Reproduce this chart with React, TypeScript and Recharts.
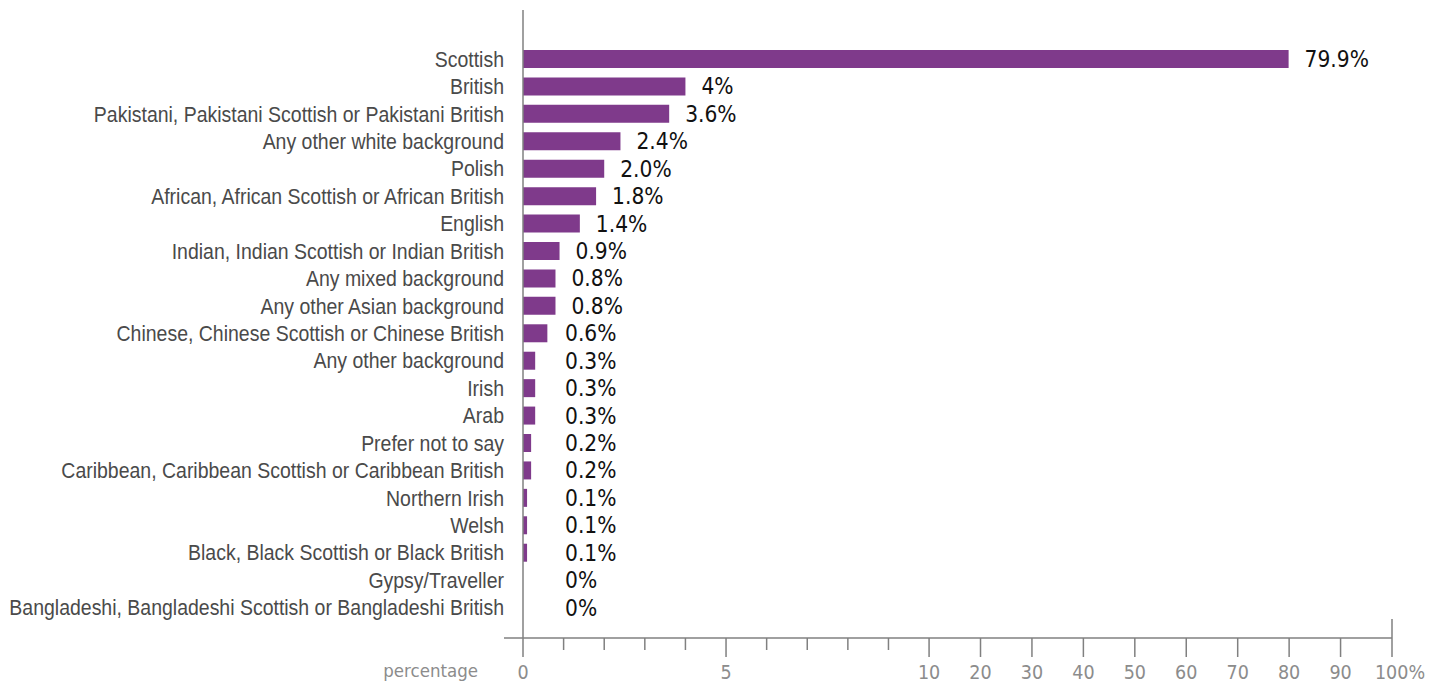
import React from 'react';
import { BarChart, Bar, XAxis, YAxis, LabelList } from 'recharts';

const categories = [
  'Scottish',
  'British',
  'Pakistani, Pakistani Scottish or Pakistani British',
  'Any other white background',
  'Polish',
  'African, African Scottish or African British',
  'English',
  'Indian, Indian Scottish or Indian British',
  'Any mixed background',
  'Any other Asian background',
  'Chinese, Chinese Scottish or Chinese British',
  'Any other background',
  'Irish',
  'Arab',
  'Prefer not to say',
  'Caribbean, Caribbean Scottish or Caribbean British',
  'Northern Irish',
  'Welsh',
  'Black, Black Scottish or Black British',
  'Gypsy/Traveller',
  'Bangladeshi, Bangladeshi Scottish or Bangladeshi British',
];

const percentages = [79.9, 4, 3.6, 2.4, 2.0, 1.8, 1.4, 0.9, 0.8, 0.8, 0.6, 0.3, 0.3, 0.3, 0.2, 0.2, 0.1, 0.1, 0.1, 0, 0];

const valueLabels = [
  '79.9%', '4%', '3.6%', '2.4%', '2.0%', '1.8%', '1.4%', '0.9%', '0.8%', '0.8%', '0.6%',
  '0.3%', '0.3%', '0.3%', '0.2%', '0.2%', '0.1%', '0.1%', '0.1%', '0%', '0%',
];

const xTickValues = [0, 1, 2, 3, 4, 5, 6, 7, 8, 9, 10, 20, 30, 40, 50, 60, 70, 80, 90, 100];
const xTickLabels = ['0', '', '', '', '', '5', '', '', '', '', '10', '20', '30', '40', '50', '60', '70', '80', '90', '100%'];

const axisTitle = 'percentage';

// broken scale: 0..10 linear, 10..100 compressed
const BREAK = 10;
const UPPER_SPAN = 11.4;
const toAxis = (v: number) => (v <= BREAK ? v : BREAK + ((v - BREAK) / 90) * UPPER_SPAN);

const data = categories.map((name, i) => ({
  name,
  value: toAxis(percentages[i]),
  label: valueLabels[i],
}));
const axisTicks = xTickValues.map(toAxis);

const GRAY = '#808080';
const TICK_TEXT = '#8c8c8c';
const CAT_TEXT = '#4a4a4a';
const BAR = '#7f3a8b';
const COND = "'DejaVu Sans Condensed', 'DejaVu Sans', sans-serif";

const XTick = (props: any) => {
  const { x, y, payload } = props;
  let idx = 0;
  let best = Infinity;
  axisTicks.forEach((t, i) => {
    const d = Math.abs(t - payload.value);
    if (d < best) {
      best = d;
      idx = i;
    }
  });
  const label = xTickLabels[idx];
  const major = label !== '';
  const isLast = idx === xTickLabels.length - 1;
  const isFirst = idx === 0;
  return (
    <g>
      <line
        x1={x}
        x2={x}
        y1={isLast ? y - 19 : y}
        y2={y + (major ? 19 : 12)}
        stroke={GRAY}
        strokeWidth={1.5}
      />
      {isFirst && <line x1={x - 19} x2={x} y1={y} y2={y} stroke={GRAY} strokeWidth={1.5} />}
      {isFirst && (
        <text x={x - 45} y={y + 39} textAnchor="end" fill={TICK_TEXT} fontFamily={COND} fontSize={18.5}>
          {axisTitle}
        </text>
      )}
      {major && (
        <text
          x={label.endsWith('%') ? x + 8 : x}
          y={y + 41}
          textAnchor="middle"
          fill={TICK_TEXT}
          fontFamily={COND}
          fontSize={19.5}
        >
          {label}
        </text>
      )}
    </g>
  );
};

const YTick = (props: any) => {
  const { x, y, payload } = props;
  return (
    <g transform={`translate(${x - 19},${y}) scale(0.866,1)`}>
      <text
        x={0}
        y={0}
        textAnchor="end"
        dominantBaseline="central"
        fill={CAT_TEXT}
        fontFamily="'Liberation Sans', Arial, sans-serif"
        fontSize={22.5}
      >
        {payload.value}
      </text>
    </g>
  );
};

const ValueLabel = (props: any) => {
  const { x, y, width, height, value } = props;
  const end = x + (width || 0);
  const tx = Math.max(end + 16, x + 42);
  return (
    <text
      x={tx}
      y={y + height / 2}
      dominantBaseline="central"
      fill="#111"
      fontFamily={COND}
      fontSize={22.5}
    >
      {value}
    </text>
  );
};

export default function App() {
  return (
    <div style={{ position: 'absolute', left: 0, top: 0, width: 1440, height: 684, background: '#fff' }}>
      <BarChart
        width={1440}
        height={684}
        data={data}
        layout="vertical"
        margin={{ top: 10, right: 48, bottom: 0, left: 0 }}
        barCategoryGap={0}
      >
        <XAxis
          type="number"
          dataKey="value"
          domain={[0, toAxis(100)]}
          ticks={axisTicks}
          interval={0}
          height={46}
          tickSize={0}
          tickMargin={0}
          tickLine={false}
          axisLine={{ stroke: GRAY, strokeWidth: 1.5 }}
          tick={<XTick />}
          allowDataOverflow
        />
        <YAxis
          type="category"
          dataKey="name"
          width={523}
          padding={{ top: 35, bottom: 17 }}
          tickSize={0}
          tickMargin={0}
          tickLine={false}
          interval={0}
          axisLine={{ stroke: GRAY, strokeWidth: 1.5 }}
          tick={<YTick />}
        />
        <Bar dataKey="value" fill={BAR} barSize={18} minPointSize={0.01} isAnimationActive={false}>
          <LabelList dataKey="label" content={<ValueLabel />} />
        </Bar>
      </BarChart>
    </div>
  );
}
